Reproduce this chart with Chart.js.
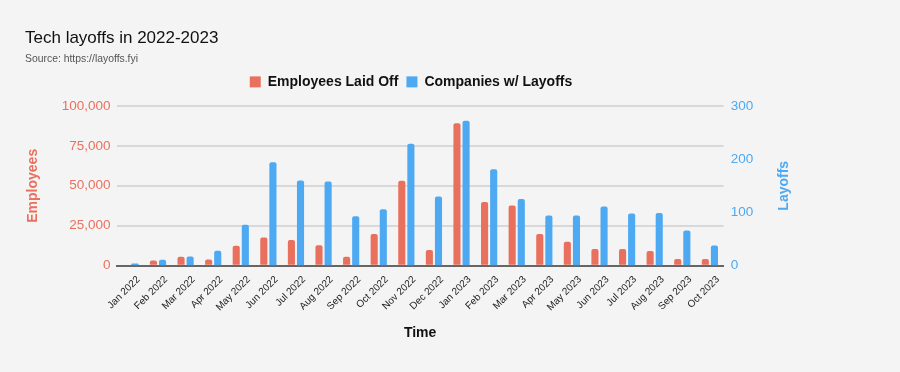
<!DOCTYPE html>
<html>
<head>
<meta charset="utf-8">
<script src="https://cdn.jsdelivr.net/npm/chart.js@4"></script>
<style>
  html, body { margin: 0; padding: 0; background: #f4f4f4; }
  #wrap { position: absolute; left: 0; top: 0; width: 815px; height: 360px; }
</style>
</head>
<body>
<div id="wrap"><canvas id="layoffChart"></canvas></div>
<script>
// data
const months = ["Jan 2022", "Feb 2022", "Mar 2022", "Apr 2022", "May 2022", "Jun 2022",
    "Jul 2022", "Aug 2022", "Sep 2022", "Oct 2022", "Nov 2022", "Dec 2022",
    "Jan 2023", "Feb 2023", "Mar 2023", "Apr 2023", "May 2023", "Jun 2023",
    "Jul 2023", "Aug 2023", "Sep 2023", "Oct 2023"];

const employeesLaidOff = [500, 3200, 5500, 3800, 12500, 17700, 16000, 12800, 5500, 19800, 53200, 9800,
    89200, 39800, 37700, 19800, 14900, 10400, 10400, 9100, 4200, 4200];

const companiesWithLayoffs = [4, 11, 17, 28, 77, 194, 160, 158, 93, 106, 229, 130,
    272, 181, 125, 94, 94, 111, 98, 99, 66, 38];

const employeeTicks = [0, 25000, 50000, 75000, 100000];
const layoffTicks = [0, 100, 200, 300];

const red = "#E9705D";
const blue = "#4DA9F2";
const font = "'Liberation Sans', Arial, sans-serif";

Chart.defaults.font.family = font;

// more room under the legend
const legendGap = {
    id: "legendGap",
    beforeInit(chart) {
        const fit = chart.legend.fit;
        chart.legend.fit = function () {
            fit.bind(chart.legend)();
            this.height += 7;
        };
    }
};

// right axis title reads bottom-to-top like the left one
const rightTitle = {
    id: "rightTitle",
    afterDraw(chart) {
        const s = chart.scales.y1;
        const c = chart.ctx;
        c.save();
        c.translate(s.right - 5 - 8, (s.top + s.bottom) / 2);
        c.rotate(-Math.PI / 2);
        c.textAlign = "center";
        c.textBaseline = "middle";
        c.fillStyle = blue;
        c.font = "bold 14px " + font;
        c.fillText("Layoffs", 0, 0);
        c.restore();
    }
};

const ctx = document.getElementById("layoffChart").getContext("2d");

new Chart(ctx, {
    type: "bar",
    data: {
        labels: months,
        datasets: [{
            label: "Employees Laid Off",
            data: employeesLaidOff,
            backgroundColor: red,
            yAxisID: "y",
            borderRadius: 2,
            borderSkipped: "bottom",
            categoryPercentage: 0.66,
            barPercentage: 0.78
        }, {
            label: "Companies w/ Layoffs",
            data: companiesWithLayoffs,
            backgroundColor: blue,
            yAxisID: "y1",
            borderRadius: 2,
            borderSkipped: "bottom",
            categoryPercentage: 0.66,
            barPercentage: 0.78
        }]
    },
    plugins: [legendGap, rightTitle],
    options: {
        responsive: true,
        maintainAspectRatio: false,
        animation: false,
        layout: { padding: { left: 25, right: 18, top: 16, bottom: 14 } },
        plugins: {
            title: {
                display: true,
                text: "Tech layoffs in 2022-2023",
                align: "start",
                color: "#111",
                font: { size: 17, weight: "normal" },
                padding: { top: 12, bottom: 5 }
            },
            subtitle: {
                display: true,
                text: "Source: https://layoffs.fyi",
                align: "start",
                color: "#555",
                font: { size: 10.4 },
                padding: { bottom: 1 }
            },
            legend: {
                position: "top",
                labels: {
                    color: "#111",
                    boxWidth: 11,
                    boxHeight: 11,
                    padding: 8,
                    font: { size: 14, weight: "bold" }
                }
            },
            tooltip: { enabled: false }
        },
        scales: {
            x: {
                grid: { display: false },
                border: { color: "#666", width: 2 },
                ticks: {
                    color: "#222",
                    font: { size: 10 },
                    maxRotation: 45,
                    minRotation: 45,
                    autoSkip: false,
                    padding: 0,
                    labelOffset: 8
                },
                title: {
                    display: true,
                    text: "Time",
                    color: "#111",
                    font: { size: 14, weight: "bold" },
                    padding: { top: 12 }
                }
            },
            y: {
                position: "left",
                min: employeeTicks[0],
                max: employeeTicks[employeeTicks.length - 1],
                afterBuildTicks: axis => { axis.ticks = employeeTicks.map(v => ({ value: v })); },
                ticks: { color: red, font: { size: 13.5 }, padding: 6 },
                grid: { color: "#d8d8d8", lineWidth: 2, drawTicks: false },
                border: { display: false },
                title: {
                    display: true,
                    text: "Employees",
                    color: red,
                    font: { size: 14, weight: "bold" },
                    padding: { top: 0, bottom: 14 }
                }
            },
            y1: {
                position: "right",
                min: layoffTicks[0],
                max: layoffTicks[layoffTicks.length - 1],
                afterBuildTicks: axis => { axis.ticks = layoffTicks.map(v => ({ value: v })); },
                ticks: { color: blue, font: { size: 13.5 }, padding: 7 },
                grid: { drawOnChartArea: false, drawTicks: false },
                border: { display: false },
                title: {
                    display: true,
                    text: "Layoffs",
                    color: "rgba(0,0,0,0)",
                    font: { size: 14, weight: "bold" },
                    padding: { top: 5, bottom: 15 }
                }
            }
        }
    }
});
</script>
</body>
</html>
